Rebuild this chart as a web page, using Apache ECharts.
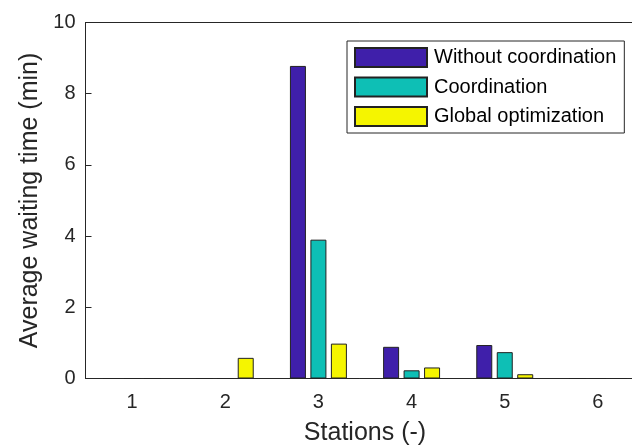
<!DOCTYPE html>
<html>
<head>
<meta charset="utf-8">
<script src="https://cdn.jsdelivr.net/npm/echarts@6/dist/echarts.min.js"></script>
<style>html,body{margin:0;padding:0;background:#fff}#c{width:632px;height:447px}</style>
</head>
<body>
<div id="c"></div>
<script>
const stations = ['1', '2', '3', '4', '5', '6'];
const seriesNames = ['Without coordination', 'Coordination', 'Global optimization'];
const withoutCoordination = [0, 0, 8.78, 0.89, 0.94, 0];
const coordination = [0, 0, 3.90, 0.23, 0.74, 0];
const globalOptimization = [0, 0.58, 0.98, 0.31, 0.12, 0];
const yTicks = [0, 2, 4, 6, 8, 10];

const FONT = '"Liberation Sans", Arial, sans-serif';
const INK = '#262626';
const colors = ['#3F1FAA', '#0EBFB5', '#F5F500'];

const chart = echarts.init(document.getElementById('c'), null, {renderer: 'canvas'});
const mkSeries = (name, data, color) => ({
  name, type: 'bar', data, barWidth: 16, barGap: '28%',
  itemStyle: {color, borderColor: '#222', borderWidth: 1},
  emphasis: {disabled: true}
});
chart.setOption({
  animation: false,
  textStyle: {fontFamily: FONT, color: INK},
  grid: {left: 85.5, top: 22.5, bottom: 68.5, right: -12.5, containLabel: false, outerBoundsMode: 'none'},
  legend: {
    orient: 'vertical', left: 347, top: 41,
    padding: [6, 8, 6, 7], itemGap: 8.5,
    itemWidth: 72, itemHeight: 19, icon: 'rect',
    backgroundColor: '#fff', borderColor: INK, borderWidth: 1,
    textStyle: {fontFamily: FONT, fontSize: 20, lineHeight: 19, color: '#000', padding: [0, 0, 0, 2]},
    data: seriesNames
  },
  xAxis: [{
    type: 'category', data: stations, position: 'bottom',
    name: 'Stations (-)', nameLocation: 'middle', nameGap: 42,
    nameTextStyle: {fontFamily: FONT, fontSize: 25, color: INK},
    axisLine: {lineStyle: {color: INK, width: 1}},
    axisTick: {inside: true, alignWithLabel: true, length: 6, lineStyle: {color: INK}},
    axisLabel: {fontFamily: FONT, fontSize: 20, color: INK, margin: 14},
    splitLine: {show: false}
  }, {
    type: 'category', data: stations, position: 'top',
    axisLine: {lineStyle: {color: INK, width: 1}},
    axisTick: {inside: true, alignWithLabel: true, length: 6, lineStyle: {color: INK}},
    axisLabel: {show: false}, splitLine: {show: false}
  }],
  yAxis: {
    type: 'value', min: yTicks[0], max: yTicks[yTicks.length - 1], interval: yTicks[1] - yTicks[0],
    name: 'Average waiting time (min)', nameLocation: 'middle', nameGap: 41,
    nameTextStyle: {fontFamily: FONT, fontSize: 25, color: INK},
    axisLine: {show: true, lineStyle: {color: INK, width: 1}},
    axisTick: {show: true, inside: true, length: 6, lineStyle: {color: INK}},
    axisLabel: {fontFamily: FONT, fontSize: 20, color: INK, margin: 10},
    splitLine: {show: false}
  },
  series: [
    mkSeries(seriesNames[0], withoutCoordination, colors[0]),
    mkSeries(seriesNames[1], coordination, colors[1]),
    mkSeries(seriesNames[2], globalOptimization, colors[2])
  ]
});
</script>
</body>
</html>
